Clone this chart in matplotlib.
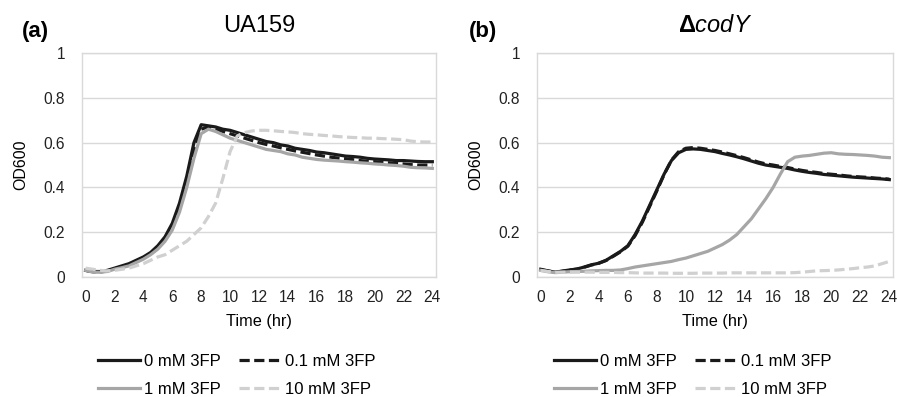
"""
Growth curves (OD600) of UA159 and the codY mutant with increasing 3FP.

Run:
    python3 plot.py
Saves out.png next to the working directory.
"""

import matplotlib

matplotlib.use("Agg")
import matplotlib.pyplot as plt
import numpy as np

plt.rcParams["font.family"] = ["Liberation Sans", "DejaVu Sans"]
plt.rcParams["mathtext.fontset"] = "custom"
plt.rcParams["mathtext.rm"] = "Liberation Sans"
plt.rcParams["mathtext.it"] = "Liberation Sans:italic"
plt.rcParams["mathtext.bf"] = "Liberation Sans:bold"

# sampling every 30 min, 0-24 h
TIME_HR = np.arange(0, 24.5, 0.5)

LEGEND_LABELS = ["0 mM 3FP", "0.1 mM 3FP", "1 mM 3FP", "10 mM 3FP"]
PANEL_TITLES = ["UA159", r"$\mathbf{\Delta}\mathit{codY}$"]
PANEL_TAGS = ["(a)", "(b)"]

# --- panel (a) UA159 ---
UA159_0MM = [0.030, 0.025, 0.025, 0.030, 0.040, 0.050, 0.060, 0.075, 0.090, 0.110,
             0.140, 0.180, 0.240, 0.330, 0.450, 0.600, 0.680, 0.675, 0.670, 0.660,
             0.655, 0.645, 0.635, 0.625, 0.615, 0.605, 0.600, 0.590, 0.585, 0.575,
             0.570, 0.565, 0.558, 0.555, 0.550, 0.545, 0.540, 0.538, 0.535, 0.530,
             0.527, 0.525, 0.523, 0.520, 0.520, 0.518, 0.516, 0.515, 0.515]
UA159_01MM = [0.030, 0.024, 0.023, 0.027, 0.037, 0.046, 0.055, 0.070, 0.085, 0.105,
              0.132, 0.170, 0.225, 0.310, 0.425, 0.565, 0.660, 0.670, 0.660, 0.650,
              0.640, 0.630, 0.620, 0.610, 0.600, 0.592, 0.585, 0.577, 0.570, 0.563,
              0.557, 0.551, 0.545, 0.540, 0.535, 0.531, 0.528, 0.524, 0.520, 0.517,
              0.515, 0.512, 0.510, 0.507, 0.505, 0.502, 0.500, 0.500, 0.500]
UA159_1MM = [0.030, 0.022, 0.022, 0.025, 0.035, 0.042, 0.050, 0.065, 0.080, 0.100,
             0.125, 0.160, 0.210, 0.290, 0.400, 0.530, 0.640, 0.660, 0.650, 0.635,
             0.620, 0.610, 0.600, 0.590, 0.580, 0.570, 0.565, 0.560, 0.550, 0.545,
             0.535, 0.530, 0.525, 0.522, 0.520, 0.518, 0.515, 0.513, 0.510, 0.508,
             0.505, 0.503, 0.500, 0.498, 0.495, 0.490, 0.488, 0.487, 0.485]
UA159_10MM = [0.040, 0.035, 0.030, 0.028, 0.030, 0.035, 0.040, 0.050, 0.060, 0.075,
              0.090, 0.100, 0.120, 0.140, 0.160, 0.190, 0.220, 0.270, 0.330, 0.440,
              0.560, 0.630, 0.645, 0.652, 0.655, 0.655, 0.653, 0.650, 0.648, 0.645,
              0.640, 0.637, 0.635, 0.632, 0.630, 0.627, 0.625, 0.623, 0.622, 0.620,
              0.620, 0.618, 0.617, 0.615, 0.613, 0.607, 0.604, 0.603, 0.603]

# --- panel (b) codY mutant ---
CODY_0MM = [0.035, 0.028, 0.022, 0.027, 0.032, 0.036, 0.045, 0.055, 0.062, 0.075,
            0.095, 0.115, 0.140, 0.190, 0.250, 0.320, 0.390, 0.460, 0.520, 0.555,
            0.570, 0.572, 0.570, 0.565, 0.560, 0.552, 0.545, 0.537, 0.528, 0.518,
            0.508, 0.500, 0.495, 0.490, 0.485, 0.478, 0.472, 0.467, 0.463, 0.458,
            0.455, 0.452, 0.449, 0.446, 0.444, 0.442, 0.440, 0.438, 0.435]
CODY_01MM = [0.033, 0.027, 0.022, 0.026, 0.031, 0.036, 0.044, 0.054, 0.062, 0.074,
             0.093, 0.113, 0.138, 0.185, 0.245, 0.315, 0.385, 0.458, 0.522, 0.560,
             0.575, 0.578, 0.575, 0.570, 0.565, 0.558, 0.550, 0.542, 0.533, 0.523,
             0.513, 0.505, 0.500, 0.494, 0.489, 0.482, 0.476, 0.471, 0.467, 0.462,
             0.459, 0.456, 0.452, 0.449, 0.447, 0.445, 0.442, 0.440, 0.437]
CODY_1MM = [0.030, 0.024, 0.020, 0.022, 0.024, 0.025, 0.026, 0.028, 0.029, 0.030,
            0.030, 0.032, 0.038, 0.045, 0.050, 0.055, 0.060, 0.065, 0.070, 0.078,
            0.085, 0.095, 0.105, 0.115, 0.130, 0.145, 0.165, 0.190, 0.225, 0.260,
            0.305, 0.350, 0.400, 0.460, 0.515, 0.535, 0.540, 0.543, 0.548, 0.553,
            0.555, 0.550, 0.548, 0.547, 0.545, 0.543, 0.540, 0.535, 0.533]
CODY_10MM = [0.030, 0.025, 0.022, 0.022, 0.022, 0.022, 0.022, 0.022, 0.021, 0.021,
             0.021, 0.020, 0.020, 0.019, 0.018, 0.018, 0.018, 0.018, 0.017, 0.017,
             0.017, 0.017, 0.018, 0.018, 0.018, 0.018, 0.019, 0.019, 0.019, 0.019,
             0.019, 0.019, 0.019, 0.019, 0.019, 0.020, 0.022, 0.025, 0.028, 0.029,
             0.030, 0.032, 0.035, 0.038, 0.042, 0.045, 0.050, 0.060, 0.070]

PANELS = [
    [UA159_0MM, UA159_01MM, UA159_1MM, UA159_10MM],
    [CODY_0MM, CODY_01MM, CODY_1MM, CODY_10MM],
]

DASH = (0, (3.2, 1.4))
SERIES_STYLE = [
    dict(color="#1a1a1a", linestyle="-"),
    dict(color="#1a1a1a", linestyle=DASH),
    dict(color="#a6a6a6", linestyle="-"),
    dict(color="#d0d0d0", linestyle=DASH),
]

GRID_COLOR = "#d9d9d9"
AXES_RECTS = [
    (0.0914, 0.302, 0.3946, 0.5645),
    (0.5987, 0.302, 0.3968, 0.5645),
]
LEGEND_CENTERS = [(0.2637, 0.054), (0.772, 0.054)]


def draw_panel(fig, idx):
    ax = fig.add_axes(AXES_RECTS[idx])
    handles = []
    for values, style in zip(PANELS[idx], SERIES_STYLE):
        (line,) = ax.plot(TIME_HR, values, linewidth=2.3, **style)
        handles.append(line)

    ax.set_xlim(-0.25, 24.25)
    ax.set_ylim(0, 1)
    ax.set_xticks(np.arange(0, 25, 2))
    ax.set_yticks([0, 0.2, 0.4, 0.6, 0.8, 1])
    ax.set_yticklabels(["0", "0.2", "0.4", "0.6", "0.8", "1"])
    ax.tick_params(length=0, labelsize=11.2, colors="#222222")
    ax.tick_params(axis="y", pad=12)
    ax.tick_params(axis="x", pad=9.5)
    ax.grid(axis="y", color=GRID_COLOR, linewidth=1)
    ax.set_axisbelow(True)
    for spine in ax.spines.values():
        spine.set_color(GRID_COLOR)
        spine.set_linewidth(1)

    ax.set_xlabel("Time (hr)", fontsize=11.7, labelpad=6)
    ax.set_ylabel("OD600", fontsize=11.5, labelpad=11)
    ax.set_title(PANEL_TITLES[idx], fontsize=17, pad=15)

    # column-wise fill: put 0 / 1 mM in column 1, 0.1 / 10 mM in column 2
    order = [0, 2, 1, 3]
    ax.legend(
        [handles[i] for i in order],
        [LEGEND_LABELS[i] for i in order],
        loc="center",
        bbox_to_anchor=LEGEND_CENTERS[idx],
        bbox_transform=fig.transFigure,
        ncol=2,
        frameon=False,
        fontsize=12,
        handlelength=2.5,
        handletextpad=0.25,
        columnspacing=1.1,
        labelspacing=0.75,
    )
    return ax


def main():
    fig = plt.figure(figsize=(8.97, 3.97), dpi=100)
    for idx in range(2):
        draw_panel(fig, idx)
    fig.text(0.024, 0.921, PANEL_TAGS[0], fontsize=16, weight="bold", va="center")
    fig.text(0.523, 0.921, PANEL_TAGS[1], fontsize=16, weight="bold", va="center")
    fig.savefig("out.png", dpi=100)


if __name__ == "__main__":
    main()
